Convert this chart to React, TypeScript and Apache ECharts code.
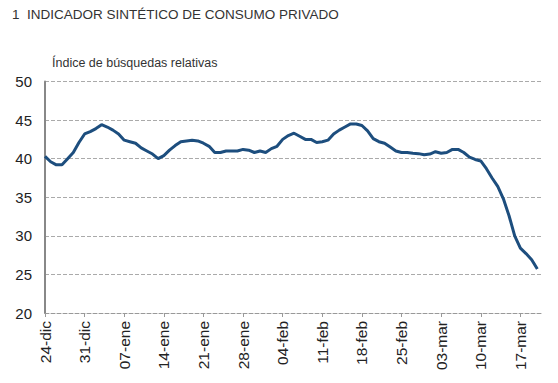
import React, { useEffect, useRef } from "react";
import * as echarts from "echarts";

const TITLE = "1  INDICADOR SINTÉTICO DE CONSUMO PRIVADO";
const SUBTITLE = "Índice de búsquedas relativas";
const MONTHS = ["dic", "ene", "feb", "mar"];
const MONTH_DAYS = [31, 31, 29, 31];
const START_DAY = 24;
const N_DAYS = 89; // 24-dic .. 21-mar

// daily index values, 24-dic .. 20-mar
const VALUES = [
  40.3, 39.6, 39.2, 39.2, 40.0, 40.8, 42.1, 43.2, 43.5, 43.9,
  44.4, 44.1, 43.7, 43.2, 42.4, 42.2, 42.0, 41.4, 41.0, 40.6,
  40.0, 40.4, 41.1, 41.7, 42.2, 42.3, 42.4, 42.3, 42.0, 41.6,
  40.8, 40.8, 41.0, 41.0, 41.0, 41.2, 41.1, 40.8, 41.0, 40.8,
  41.3, 41.6, 42.5, 43.0, 43.3, 42.9, 42.5, 42.5, 42.1, 42.2,
  42.4, 43.2, 43.7, 44.1, 44.5, 44.5, 44.3, 43.6, 42.6, 42.2,
  42.0, 41.5, 41.0, 40.8, 40.8, 40.7, 40.65, 40.5, 40.6, 40.9,
  40.7, 40.8, 41.2, 41.2, 40.8, 40.2, 39.9, 39.7, 38.7, 37.5,
  36.4, 34.8, 32.6, 30.0, 28.4, 27.7, 26.9, 25.7, null,
];

const Y_MIN = 20;
const Y_MAX = 50;
const Y_STEP = 5;

function buildDates(): string[] {
  const out: string[] = [];
  let m = 0;
  let d = START_DAY;
  for (let i = 0; i < N_DAYS; i++) {
    out.push(String(d).padStart(2, "0") + "-" + MONTHS[m]);
    d++;
    if (d > MONTH_DAYS[m]) {
      d = 1;
      m++;
    }
  }
  return out;
}
const DATES = buildDates();

export default function App() {
  const ref = useRef<HTMLDivElement>(null);
  useEffect(() => {
    document.body.style.margin = "0";
    const chart = echarts.init(ref.current!, null, { renderer: "svg" });
    const font = "'Liberation Sans', Arial, sans-serif";
    chart.setOption({
      animation: false,
      backgroundColor: "#ffffff",
      textStyle: { fontFamily: font },
      title: [
        {
          text: TITLE,
          left: 7,
          top: 2,
          textStyle: { fontSize: 13.5, fontWeight: "normal", color: "#333", fontFamily: font },
        },
        {
          text: SUBTITLE,
          left: 47,
          top: 51,
          textStyle: { fontSize: 12.5, fontWeight: "normal", color: "#333", fontFamily: font },
        },
      ],
      grid: { left: 45, right: 15, top: 81.5, bottom: 70, containLabel: false },
      xAxis: {
        type: "category",
        data: DATES,
        boundaryGap: false,
        axisLine: { show: true, lineStyle: { color: "#999", width: 1, type: "dashed" } },
        axisTick: { show: true, interval: 6, length: 4, lineStyle: { color: "#999" } },
        axisLabel: {
          interval: 6,
          rotate: 90,
          fontSize: 15.5,
          color: "#222",
          margin: 8,
          fontFamily: font,
        },
        splitLine: { show: false },
      },
      yAxis: {
        type: "value",
        min: Y_MIN,
        max: Y_MAX,
        interval: Y_STEP,
        axisLine: { show: true, lineStyle: { color: "#888", width: 2 } },
        axisTick: { show: false },
        axisLabel: { fontSize: 15, color: "#222", margin: 13, fontFamily: font },
        splitLine: { show: true, lineStyle: { color: "#aaa", type: "dashed", width: 1 } },
      },
      series: [
        {
          type: "line",
          data: VALUES,
          showSymbol: false,
          symbol: "none",
          smooth: false,
          lineStyle: { color: "#1d4e7e", width: 3 },
        },
      ],
    });
    return () => chart.dispose();
  }, []);
  return <div ref={ref} style={{ width: 558, height: 383 }} />;
}
